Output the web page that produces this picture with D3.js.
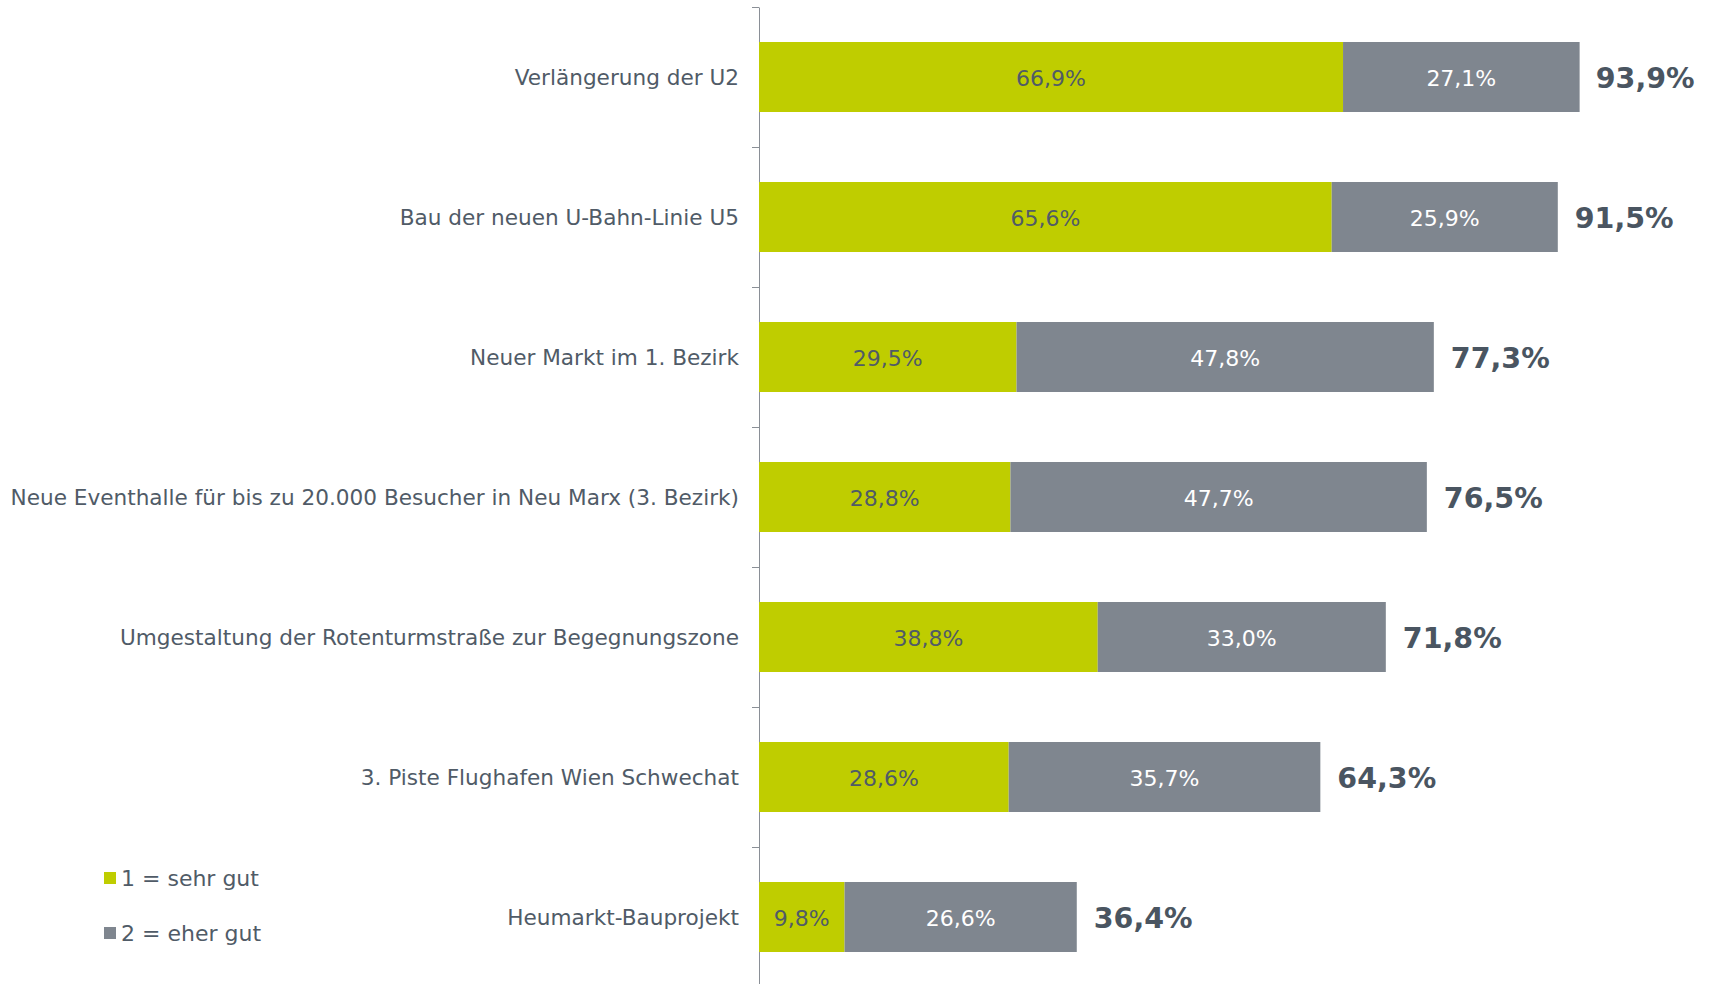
<!DOCTYPE html>
<html>
<head>
<meta charset="utf-8">
<script src="https://cdn.jsdelivr.net/npm/d3@7"></script>
<style>
  html, body { margin: 0; padding: 0; background: #fff; }
  svg { display: block; font-family: "DejaVu Sans", Verdana, sans-serif; }
</style>
</head>
<body>
<svg id="chart" width="1713" height="984"></svg>
<script>
const categories = [
  "Verlängerung der U2",
  "Bau der neuen U-Bahn-Linie U5",
  "Neuer Markt im 1. Bezirk",
  "Neue Eventhalle für bis zu 20.000 Besucher in Neu Marx (3. Bezirk)",
  "Umgestaltung der Rotenturmstraße zur Begegnungszone",
  "3. Piste Flughafen Wien Schwechat",
  "Heumarkt-Bauprojekt"
];
const sehrGut = [66.9, 65.6, 29.5, 28.8, 38.8, 28.6, 9.8];
const eherGut = [27.1, 25.9, 47.8, 47.7, 33.0, 35.7, 26.6];
const totals = [93.9, 91.5, 77.3, 76.5, 71.8, 64.3, 36.4];
const seriesNames = ["1 = sehr gut", "2 = eher gut"];

const green = "#bfcd00";
const grey = "#7f868f";
const textCol = "#505b67";

const svg = d3.select("#chart");
const fmt = v => v.toFixed(1).replace(".", ",") + "%";

const x = d3.scaleLinear().domain([0, 100]).range([759, 759 + 873]);
const y = d3.scaleBand().domain(categories).range([7, 987])
  .paddingInner(0.5).paddingOuter(0.25);

// axis with ticks between the bands
const edge = d3.scaleLinear().domain([0, categories.length]).range([7, 987]);
svg.append("g")
  .attr("transform", `translate(${x(0)},0)`)
  .call(d3.axisLeft(edge).tickValues(d3.range(categories.length + 1))
    .tickFormat("").tickSize(7).tickSizeOuter(0))
  .call(g => g.selectAll("path, line").attr("stroke", "#8a8f96"));

const rows = svg.append("g").selectAll("g")
  .data(categories)
  .join("g");

rows.append("rect")
  .attr("x", x(0))
  .attr("y", d => y(d))
  .attr("width", (d, i) => x(sehrGut[i]) - x(0))
  .attr("height", y.bandwidth())
  .attr("fill", green);

rows.append("rect")
  .attr("x", (d, i) => x(sehrGut[i]))
  .attr("y", d => y(d))
  .attr("width", (d, i) => x(sehrGut[i] + eherGut[i]) - x(sehrGut[i]))
  .attr("height", y.bandwidth())
  .attr("fill", grey);

// category labels
rows.append("text")
  .attr("x", x(0) - 20)
  .attr("y", d => y(d) + y.bandwidth() / 2)
  .attr("dy", "0.38em")
  .attr("text-anchor", "end")
  .attr("fill", textCol)
  .style("font-size", "21.6px")
  .text(d => d);

// value labels inside segments
rows.append("text")
  .attr("x", (d, i) => (x(0) + x(sehrGut[i])) / 2)
  .attr("y", d => y(d) + y.bandwidth() / 2)
  .attr("dy", "0.4em")
  .attr("text-anchor", "middle")
  .attr("fill", textCol)
  .style("font-size", "22px")
  .text((d, i) => fmt(sehrGut[i]));

rows.append("text")
  .attr("x", (d, i) => (x(sehrGut[i]) + x(sehrGut[i] + eherGut[i])) / 2)
  .attr("y", d => y(d) + y.bandwidth() / 2)
  .attr("dy", "0.4em")
  .attr("text-anchor", "middle")
  .attr("fill", "#ffffff")
  .style("font-size", "22px")
  .text((d, i) => fmt(eherGut[i]));

// totals
rows.append("text")
  .attr("x", (d, i) => x(totals[i]) + 17)
  .attr("y", d => y(d) + y.bandwidth() / 2)
  .attr("dy", "0.38em")
  .attr("fill", "#4a5561")
  .style("font-size", "28.5px")
  .style("font-weight", "bold")
  .text((d, i) => fmt(totals[i]));

// legend
const legend = svg.append("g").attr("transform", "translate(104,872)")
  .selectAll("g").data(seriesNames).join("g")
  .attr("transform", (d, i) => `translate(0,${i * 55})`);
legend.append("rect").attr("width", 12).attr("height", 12)
  .attr("fill", (d, i) => i === 0 ? green : grey);
legend.append("text").attr("x", 17).attr("y", 6).attr("dy", "0.38em")
  .attr("fill", textCol).style("font-size", "22px").text(d => d);
</script>
</body>
</html>
